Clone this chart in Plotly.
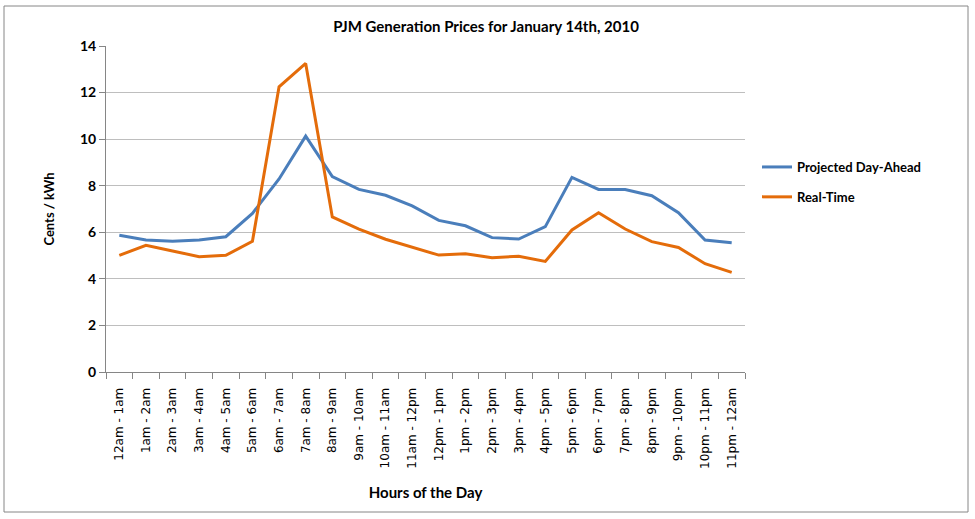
import plotly.graph_objects as go

hours = ["12am - 1am", "1am - 2am", "2am - 3am", "3am - 4am", "4am - 5am", "5am - 6am",
         "6am - 7am", "7am - 8am", "8am - 9am", "9am - 10am", "10am - 11am", "11am - 12pm",
         "12pm - 1pm", "1pm - 2pm", "2pm - 3pm", "3pm - 4pm", "4pm - 5pm", "5pm - 6pm",
         "6pm - 7pm", "7pm - 8pm", "8pm - 9pm", "9pm - 10pm", "10pm - 11pm", "11pm - 12am"]

day_ahead = [5.87, 5.67, 5.61, 5.67, 5.81, 6.81, 8.29, 10.13, 8.39, 7.84, 7.59, 7.13,
             6.51, 6.28, 5.77, 5.71, 6.24, 8.36, 7.84, 7.84, 7.57, 6.84, 5.67, 5.55]

real_time = [5.01, 5.44, 5.20, 4.95, 5.01, 5.61, 12.25, 13.25, 6.66, 6.14, 5.70, 5.35,
             5.02, 5.08, 4.91, 4.97, 4.75, 6.10, 6.84, 6.14, 5.60, 5.35, 4.65, 4.28]

y_ticks = [0, 2, 4, 6, 8, 10, 12, 14]

BLUE = "#4A7EBB"
ORANGE = "#E46C0A"
FONT = "Lato"

fig = go.Figure()
fig.add_trace(go.Scatter(x=hours, y=day_ahead, mode="lines", name="Projected Day-Ahead",
                         legendgroup="a", line=dict(color=BLUE, width=3)))
fig.add_trace(go.Scatter(x=hours, y=real_time, mode="lines", name="Real-Time",
                         legendgroup="b", line=dict(color=ORANGE, width=3)))

W, H = 975, 519
L, R, T, B = 106, 230, 46, 147
pw = W - L - R
ph = H - T - B

def px_x(x):
    return (x - L) / pw

def px_y(y):
    return (H - B - y) / ph

fig.update_layout(
    width=W, height=H,
    margin=dict(l=L, r=R, t=T, b=B),
    paper_bgcolor="white", plot_bgcolor="white",
    title=dict(text="<b>PJM Generation Prices for January 14th, 2010</b>",
               x=px_x(486), xref="paper", xanchor="center",
               y=1 - 27 / H, yref="container", yanchor="middle",
               font=dict(family=FONT, size=15, color="black")),
    showlegend=True,
    legend=dict(x=px_x(757), y=px_y(182), xanchor="left", yanchor="middle",
                traceorder="grouped", tracegroupgap=10,
                font=dict(family=FONT, size=13, color="black", weight="bold"),
                bgcolor="rgba(0,0,0,0)"),
    xaxis=dict(
        type="category", tickson="boundaries", ticks="outside", ticklen=6,
        tickcolor="#868686", showline=True, linecolor="#868686", linewidth=1,
        showgrid=False, tickangle=-90, ticklabelstandoff=10,
        tickfont=dict(family="DejaVu Sans", size=12, color="black"),
        title=dict(text="<b>Hours of the Day</b>", standoff=19,
                   font=dict(family=FONT, size=15, color="black")),
        range=[-0.5, 23.5],
    ),
    yaxis=dict(
        range=[0, 14], tickvals=y_ticks, ticks="outside", ticklen=6,
        tickcolor="#868686", showline=True, linecolor="#868686", linewidth=1,
        showgrid=True, gridcolor="#BEBEBE", gridwidth=1, zeroline=False,
        tickfont=dict(family=FONT, size=14, color="black", weight="bold"),
        title=dict(text="<b>Cents / kWh</b>", standoff=22,
                   font=dict(family=FONT, size=13, color="black")),
    ),
    shapes=[dict(type="rect", xref="paper", yref="paper",
                 x0=px_x(4), x1=px_x(968), y0=px_y(512), y1=px_y(6),
                 line=dict(color="#868686", width=1), fillcolor="rgba(0,0,0,0)",
                 layer="below")],
)

fig.write_html("out.html")
